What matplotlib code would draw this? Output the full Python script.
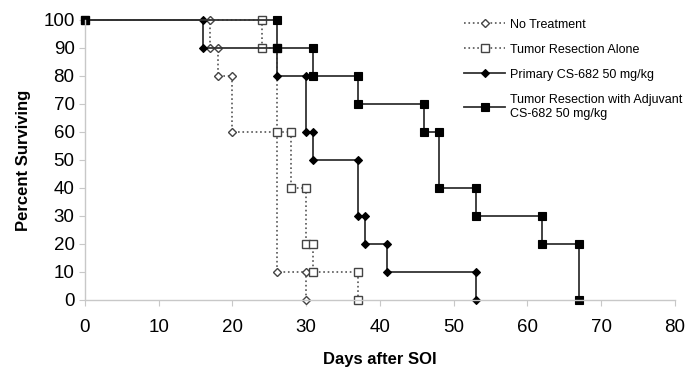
import numpy as np
import matplotlib
matplotlib.use('Agg')
import matplotlib.pyplot as plt

plt.rcParams['font.family'] = ['Liberation Sans', 'DejaVu Sans']

# survival data: day of each drop and the percent surviving after it
nt_days = [17, 18, 20, 26, 30]
nt_surv = [90, 80, 60, 10, 0]
res_days = [24, 26, 28, 30, 31, 37]
res_surv = [90, 60, 40, 20, 10, 0]
prim_days = [16, 26, 30, 31, 37, 38, 41, 53]
prim_surv = [90, 80, 60, 50, 30, 20, 10, 0]
adj_days = [26, 31, 37, 46, 48, 53, 62, 67]
adj_surv = [90, 80, 70, 60, 40, 30, 20, 0]

labels = ['No Treatment', 'Tumor Resection Alone', 'Primary CS-682 50 mg/kg',
          'Tumor Resection with Adjuvant\nCS-682 50 mg/kg']


def km_points(days, surv):
    xs = [0.0]
    ys = [100.0]
    prev = 100.0
    for d, s in zip(days, surv):
        xs += [d, d]
        ys += [prev, s]
        prev = s
    return np.array(xs), np.array(ys)


fig = plt.figure(figsize=(6.85, 3.68), dpi=100, facecolor='w')
ax = fig.add_axes([0.124, 0.185, 0.861, 0.761])

styles = [
    dict(ls=':', color='#555555', lw=1.2, marker='D', ms=4.5, mfc='white', mec='#444444', mew=1.0),
    dict(ls=':', color='#555555', lw=1.2, marker='s', ms=5.5, mfc='white', mec='#444444', mew=1.0),
    dict(ls='-', color='#333333', lw=1.3, marker='D', ms=4.5, mfc='black', mec='black', mew=0.8),
    dict(ls='-', color='#333333', lw=1.3, marker='s', ms=5.5, mfc='black', mec='black', mew=0.8),
]
series = [(nt_days, nt_surv), (res_days, res_surv), (prim_days, prim_surv), (adj_days, adj_surv)]

for (d, s), st, lab in zip(series, styles, labels):
    x, y = km_points(d, s)
    ax.plot(x, y, label=lab, clip_on=False, **st)

ax.set_xlim(0, 80)
ax.set_ylim(0, 100)
ax.set_xticks(np.arange(0, 81, 10))
ax.set_yticks(np.arange(0, 101, 10))
for side in ['top', 'right']:
    ax.spines[side].set_visible(False)
for side in ['left', 'bottom']:
    ax.spines[side].set_color('#c8c8c8')
    ax.spines[side].set_linewidth(1.0)
ax.tick_params(axis='both', colors='#c8c8c8', labelcolor='black', labelsize=13.5,
               direction='out', length=4)
ax.tick_params(axis='x', pad=10)
ax.set_xlabel('Days after SOI', fontsize=12, fontweight='bold', labelpad=11)
ax.set_ylabel('Percent Surviving', fontsize=12, fontweight='bold', labelpad=9)

ax.legend(loc='upper left', bbox_to_anchor=(0.624, 1.045), frameon=False, fontsize=9,
          numpoints=1, handlelength=3.3, labelspacing=1.05, handletextpad=0.4)

fig.savefig('out.png', dpi=100)
